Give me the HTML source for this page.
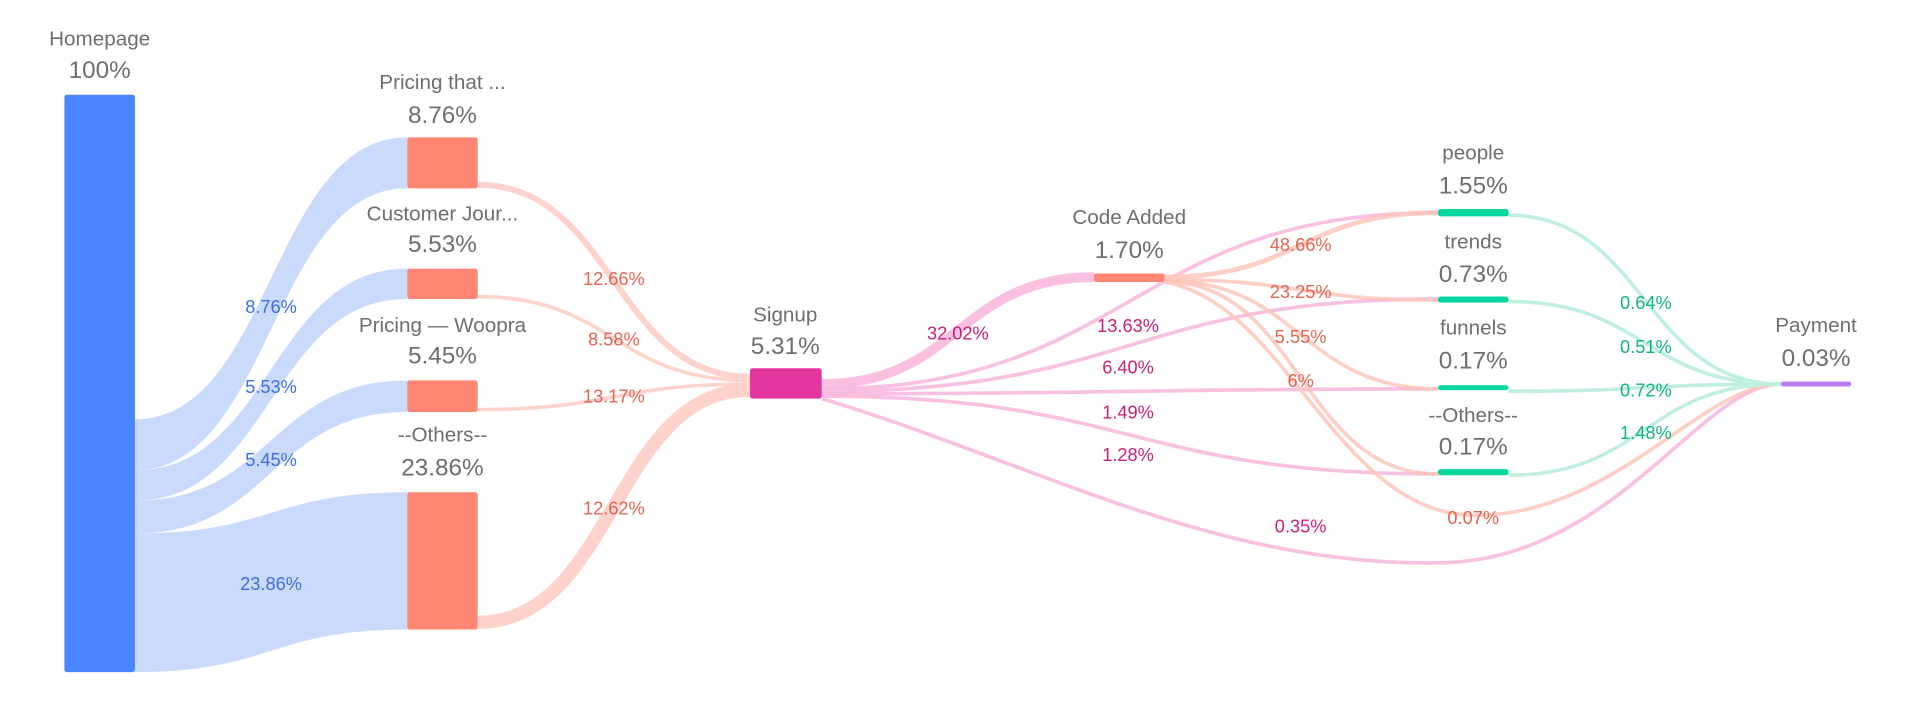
<!DOCTYPE html>
<html><head><meta charset="utf-8"><style>
html,body{margin:0;padding:0;background:#fff;width:1906px;height:728px;overflow:hidden}
svg text{font-family:"Liberation Sans",sans-serif;text-anchor:middle;dominant-baseline:central}
.n{fill:#6e6e6e;font-size:17px}
.p{fill:#6e6e6e;font-size:20px}
.lb{fill:#3b6fe0;font-size:15px}
.lr{fill:#e0654f;font-size:15px}
.lm{fill:#c8207a;font-size:15px}
.lg{fill:#10b47c;font-size:15px}
</style></head><body>
<svg width="1906" height="728" viewBox="0 0 1568 599" preserveAspectRatio="none">
<!-- stage 1 links -->
<g fill="#c9dafc">
<path d="M111 345 C223 345,223 113,335 113 L335 155 C223 155,223 387,111 387Z"/>
<path d="M111 387 C223 387,223 221,335 221 L335 246 C223 246,223 412,111 412Z"/>
<path d="M111 412 C223 412,223 313,335 313 L335 339 C223 339,223 439,111 439Z"/>
<path d="M111 439 C223 439,223 405,335 405 L335 518 C223 518,223 553,111 553Z"/>
</g>
<!-- stage 2 links -->
<g fill="none" stroke="#ffd3cc">
<path d="M393 152 C505 152,505 310,617 310" stroke-width="5"/>
<path d="M393 244 C505 244,505 313,617 313" stroke-width="3"/>
<path d="M393 337 C505 337,505 316,617 316" stroke-width="3"/>
<path d="M393 512 C505 512,505 321,617 321" stroke-width="11"/>
</g>
<!-- signup links -->
<g fill="none" stroke="#f8b5dc" stroke-opacity="0.85">
<path d="M676 316 C788 316,788 228,900 228" stroke-width="8"/>
<path d="M676 320 C930 320,930 175,1183 175" stroke-width="3"/>
<path d="M676 322 C930 322,930 246,1183 246" stroke-width="3"/>
<path d="M676 324 C930 324,930 320,1183 320" stroke-width="3"/>
<path d="M676 326 C930 326,930 390,1183 390" stroke-width="3"/>
<path d="M676 328 C850 380,1000 468,1190 463 C1330 458,1400 316,1465 316" stroke-width="3"/>
</g>
<!-- code added links -->
<g fill="none" stroke="#ffc6ba" stroke-opacity="0.85">
<path d="M958 228 C1070 228,1070 175,1183 175" stroke-width="4"/>
<path d="M958 230 C1070 230,1070 247,1183 247" stroke-width="3"/>
<path d="M958 231 C1070 231,1070 320,1183 320" stroke-width="3"/>
<path d="M958 232 C1070 232,1070 390,1183 390" stroke-width="3"/>
<path d="M958 232 C1060 250,1100 425,1215 424 C1330 423,1400 316,1465 316" stroke-width="3"/>
</g>
<!-- to payment -->
<g fill="none" stroke="#bff0dc">
<path d="M1241 177 C1353 177,1353 316,1465 316" stroke-width="3"/>
<path d="M1241 248 C1353 248,1353 316,1465 316" stroke-width="3"/>
<path d="M1241 322 C1353 322,1353 316,1465 316" stroke-width="3"/>
<path d="M1241 391 C1353 391,1353 316,1465 316" stroke-width="3"/>
</g>
<!-- nodes -->
<rect x="53" y="78" width="58" height="475" rx="2" fill="#4a86ff"/>
<g fill="#ff8672">
<rect x="335" y="113" width="58" height="42" rx="2"/>
<rect x="335" y="221" width="58" height="25" rx="2"/>
<rect x="335" y="313" width="58" height="26" rx="2"/>
<rect x="335" y="405" width="58" height="113" rx="2"/>
<rect x="900" y="225" width="58" height="7" rx="2"/>
</g>
<rect x="617" y="303" width="59" height="25" rx="2" fill="#e5359f"/>
<g fill="#06d6a0">
<rect x="1183" y="172" width="58" height="6" rx="2"/>
<rect x="1183" y="244" width="58" height="5" rx="2"/>
<rect x="1183" y="317" width="58" height="4" rx="2"/>
<rect x="1183" y="386" width="58" height="5" rx="2"/>
</g>
<rect x="1465" y="314" width="58" height="4" rx="2" fill="#bb7cf0"/>
<!-- node labels -->
<text class="n" x="82" y="32">Homepage</text><text class="p" x="82" y="58">100%</text>
<text class="n" x="364" y="68">Pricing that ...</text><text class="p" x="364" y="95">8.76%</text>
<text class="n" x="364" y="176">Customer Jour...</text><text class="p" x="364" y="201">5.53%</text>
<text class="n" x="364" y="268">Pricing — Woopra</text><text class="p" x="364" y="293">5.45%</text>
<text class="n" x="364" y="358">--Others--</text><text class="p" x="364" y="385">23.86%</text>
<text class="n" x="646" y="259">Signup</text><text class="p" x="646" y="285">5.31%</text>
<text class="n" x="929" y="179">Code Added</text><text class="p" x="929" y="206">1.70%</text>
<text class="n" x="1212" y="126">people</text><text class="p" x="1212" y="153">1.55%</text>
<text class="n" x="1212" y="199">trends</text><text class="p" x="1212" y="226">0.73%</text>
<text class="n" x="1212" y="270">funnels</text><text class="p" x="1212" y="297">0.17%</text>
<text class="n" x="1212" y="342">--Others--</text><text class="p" x="1212" y="368">0.17%</text>
<text class="n" x="1494" y="268">Payment</text><text class="p" x="1494" y="295">0.03%</text>
<!-- link labels -->
<text class="lb" x="223" y="252">8.76%</text>
<text class="lb" x="223" y="318">5.53%</text>
<text class="lb" x="223" y="378">5.45%</text>
<text class="lb" x="223" y="480">23.86%</text>
<text class="lr" x="505" y="229">12.66%</text>
<text class="lr" x="505" y="279">8.58%</text>
<text class="lr" x="505" y="326">13.17%</text>
<text class="lr" x="505" y="418">12.62%</text>
<text class="lm" x="788" y="274">32.02%</text>
<text class="lm" x="928" y="268">13.63%</text>
<text class="lm" x="928" y="302">6.40%</text>
<text class="lm" x="928" y="339">1.49%</text>
<text class="lm" x="928" y="374">1.28%</text>
<text class="lm" x="1070" y="433">0.35%</text>
<text class="lr" x="1070" y="201">48.66%</text>
<text class="lr" x="1070" y="240">23.25%</text>
<text class="lr" x="1070" y="277">5.55%</text>
<text class="lr" x="1070" y="313">6%</text>
<text class="lr" x="1212" y="426">0.07%</text>
<text class="lg" x="1354" y="249">0.64%</text>
<text class="lg" x="1354" y="285">0.51%</text>
<text class="lg" x="1354" y="321">0.72%</text>
<text class="lg" x="1354" y="356">1.48%</text>
</svg>
</body></html>
